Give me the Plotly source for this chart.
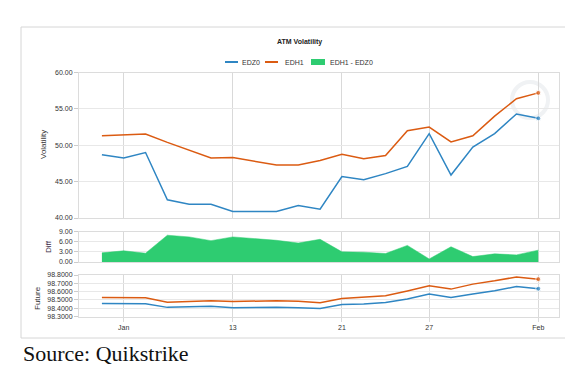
import plotly.graph_objects as go

# ---- data ----
x_idx = list(range(21))
tick_positions = [1, 6, 11, 15, 20]
tick_labels = ["Jan", "13", "21", "27", "Feb"]

edz0_vol = [48.7, 48.25, 49.0, 42.5, 41.9, 41.9, 40.9, 40.9, 40.9, 41.7, 41.2,
            45.7, 45.25, 46.1, 47.1, 51.6, 45.9, 49.75, 51.6, 54.3, 53.7]
edh1_vol = [51.3, 51.45, 51.55, 50.4, 49.3, 48.25, 48.3, 47.8, 47.3, 47.3, 47.9,
            48.75, 48.15, 48.6, 52.0, 52.5, 50.45, 51.3, 54.0, 56.4, 57.2]
diff_vol = [2.7, 3.3, 2.6, 7.9, 7.4, 6.3, 7.4, 6.9, 6.4, 5.6, 6.7,
            3.0, 2.9, 2.5, 4.9, 0.9, 4.5, 1.6, 2.4, 2.1, 3.5]
edz0_fut = [98.458, 98.458, 98.455, 98.41, 98.42, 98.425, 98.405, 98.41, 98.41, 98.405, 98.397,
            98.445, 98.45, 98.47, 98.51, 98.57, 98.53, 98.57, 98.61, 98.66, 98.635]
edh1_fut = [98.53, 98.53, 98.525, 98.473, 98.485, 98.49, 98.48, 98.487, 98.49, 98.483, 98.465,
            98.518, 98.53, 98.55, 98.607, 98.67, 98.63, 98.69, 98.73, 98.776, 98.75]

BLUE = "#2f86c3"
ORANGE = "#db5b12"
GREEN = "#2ecc71"
W, H = 565, 375


def px(x):
    return x / W


def py(y):
    return 1 - y / H


last_marker = [0] * (len(x_idx) - 1) + [5]

fig = go.Figure()
fig.add_trace(go.Scatter(x=x_idx, y=edz0_vol, mode="lines+markers", line=dict(color=BLUE, width=1.5),
                         marker=dict(size=last_marker, color=BLUE), xaxis="x", yaxis="y", name="EDZ0"))
fig.add_trace(go.Scatter(x=x_idx, y=edh1_vol, mode="lines+markers", line=dict(color=ORANGE, width=1.5),
                         marker=dict(size=last_marker, color=ORANGE), xaxis="x", yaxis="y", name="EDH1"))
fig.add_trace(go.Scatter(x=x_idx, y=diff_vol, mode="lines", fill="tozeroy", fillcolor=GREEN,
                         line=dict(color=GREEN, width=0.5), xaxis="x2", yaxis="y2", name="EDH1 - EDZ0"))
fig.add_trace(go.Scatter(x=x_idx, y=edz0_fut, mode="lines+markers", line=dict(color=BLUE, width=1.5),
                         marker=dict(size=last_marker, color=BLUE), xaxis="x3", yaxis="y3", name="EDZ0 fut"))
fig.add_trace(go.Scatter(x=x_idx, y=edh1_fut, mode="lines+markers", line=dict(color=ORANGE, width=1.5),
                         marker=dict(size=last_marker, color=ORANGE), xaxis="x3", yaxis="y3", name="EDH1 fut"))

xdom = [px(79), px(559)]
tick_font = dict(family="Liberation Sans, Arial", size=7, color="#333333")
common_x = dict(domain=xdom, range=[-1.05, 20.95], tickvals=tick_positions, ticktext=tick_labels,
                showgrid=True, gridcolor="#d9d9d9", gridwidth=1, zeroline=False,
                showline=True, mirror=True, linecolor="#dcdcdc", linewidth=1, tickfont=tick_font)
common_y = dict(showgrid=True, gridcolor="#e8e8e8", zeroline=False, showline=True, mirror=True,
                linecolor="#dcdcdc", linewidth=1, ticks="outside", ticklen=4, tickcolor="#cccccc",
                tickfont=tick_font, automargin=False)

fig.update_layout(
    width=W, height=H, margin=dict(l=0, r=0, t=0, b=0),
    paper_bgcolor="white", plot_bgcolor="white", showlegend=False,
    xaxis=dict(**common_x, anchor="y", showticklabels=False),
    xaxis2=dict(**common_x, anchor="y2", showticklabels=False, matches="x"),
    xaxis3=dict(**common_x, anchor="y3", showticklabels=True, matches="x",
                ticks="outside", ticklen=4, tickcolor="#d9d9d9"),
    yaxis=dict(**common_y, domain=[py(218), py(72.5)], range=[40, 60], tickvals=[40, 45, 50, 55, 60],
               tickformat=".2f"),
    yaxis2=dict(**common_y, domain=[py(262), py(231.5)], range=[0, 9], tickvals=[0, 3, 6, 9],
                tickformat=".2f"),
    yaxis3=dict(**common_y, domain=[py(316.5), py(275)], range=[98.3, 98.8],
                tickvals=[98.3, 98.4, 98.5, 98.6, 98.7, 98.8], tickformat=".4f"),
)

shapes = [
    # card border
    dict(type="rect", xref="paper", yref="paper", x0=px(21), x1=px(580), y0=py(338), y1=py(27),
         line=dict(color="#d6d6d6", width=1), fillcolor="rgba(0,0,0,0)", layer="below"),
    # faint watermark ring
    dict(type="circle", xref="paper", yref="paper", x0=px(512), x1=px(548), y0=py(118), y1=py(82),
         line=dict(color="#f0f2f4", width=4), layer="below"),
    # legend symbols
    dict(type="line", xref="paper", yref="paper", x0=px(225), x1=px(238), y0=py(62), y1=py(62),
         line=dict(color=BLUE, width=2)),
    dict(type="line", xref="paper", yref="paper", x0=px(265), x1=px(278), y0=py(62), y1=py(62),
         line=dict(color=ORANGE, width=2)),
    dict(type="rect", xref="paper", yref="paper", x0=px(311), x1=px(325), y0=py(65), y1=py(59),
         line=dict(width=0), fillcolor=GREEN),
]

annot_font = dict(family="Liberation Sans, Arial", size=7, color="#333333")


def ann(text, x, y, font, xanchor="center", angle=0):
    return dict(text=text, x=px(x), y=py(y), xref="paper", yref="paper", xanchor=xanchor,
                yanchor="middle", textangle=angle, showarrow=False, font=font)


annotations = [
    ann("<b>ATM Volatility</b>", 299, 42, dict(family="Liberation Sans, Arial", size=7, color="#222222")),
    ann("EDZ0", 240, 62, annot_font, "left"),
    ann("EDH1", 283, 62, annot_font, "left"),
    ann("EDH1 - EDZ0", 328, 62, annot_font, "left"),
    ann("Volatility", 43, 145, dict(family="Liberation Sans, Arial", size=8, color="#333333"), angle=-90),
    ann("Diff", 49, 247, dict(family="Liberation Sans, Arial", size=8, color="#3a2a44"), angle=-90),
    ann("Future", 37, 298, dict(family="Liberation Sans, Arial", size=8, color="#333333"), angle=-90),
    ann("Source: Quikstrike", 21, 353,
        dict(family="Liberation Serif, DejaVu Serif, serif", size=22, color="#111111"), "left"),
]
fig.update_layout(shapes=shapes, annotations=annotations)

fig.write_html("out.html", config={"displayModeBar": False},
               post_script="document.body.style.margin='0';")
